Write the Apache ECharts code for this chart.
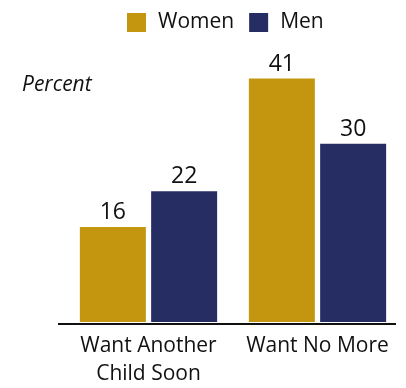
<!DOCTYPE html>
<html>
<head>
<meta charset="utf-8">
<script src="https://cdn.jsdelivr.net/npm/echarts@6/dist/echarts.min.js"></script>
<style>
  html, body { margin: 0; padding: 0; background: #fff; }
  #chart { width: 406px; height: 388px; }
</style>
</head>
<body>
<div id="chart"></div>
<script>
// Fertility preference by sex, percent
const categories = ['Want Another\nChild Soon', 'Want No More'];
const womenValues = [16, 41];
const menValues = [22, 30];
const seriesNames = ['Women', 'Men'];

const GOLD = '#C4960F';
const NAVY = '#252D63';
const FONT = '"Open Sans", "DejaVu Sans", sans-serif';

const chart = echarts.init(document.getElementById('chart'), null, { renderer: 'canvas' });

const valueLabel = {
  show: true,
  position: 'top',
  distance: 3,
  color: '#111',
  fontFamily: FONT,
  fontSize: 23
};

chart.setOption({
  animation: false,
  backgroundColor: '#fff',
  legend: {
    data: seriesNames,
    left: 127,
    top: 12,
    padding: 0,
    itemWidth: 19,
    itemHeight: 19,
    itemGap: 15,
    icon: 'rect',
    textStyle: { fontFamily: FONT, fontSize: 21, color: '#111', padding: [0, 0, 0, 7] }
  },
  grid: { left: 64, right: 4, top: 25, bottom: 65 },
  xAxis: {
    type: 'category',
    data: categories,
    axisLine: { show: false },
    axisTick: { show: false },
    axisLabel: {
      interval: 0,
      hideOverlap: false,
      fontFamily: FONT,
      fontSize: 21,
      color: '#111',
      lineHeight: 28,
      margin: 10
    }
  },
  yAxis: {
    type: 'value',
    min: 0,
    max: 50,
    interval: 10,
    show: false,
    splitLine: { show: false }
  },
  series: [
    {
      name: seriesNames[0],
      type: 'bar',
      data: womenValues,
      barWidth: 66,
      barGap: '8%',
      itemStyle: { color: GOLD },
      label: valueLabel
    },
    {
      name: seriesNames[1],
      type: 'bar',
      data: menValues,
      barWidth: 66,
      itemStyle: { color: NAVY },
      label: valueLabel
    }
  ],
  graphic: [
    {
      type: 'line',
      shape: { x1: 58, y1: 324, x2: 396, y2: 324 },
      style: { stroke: '#111', lineWidth: 2 },
      z: 10
    },
    {
      type: 'text',
      left: 22,
      top: 75,
      style: {
        text: 'Percent',
        fontFamily: FONT,
        fontStyle: 'italic',
        fontSize: 21,
        fill: '#111'
      }
    }
  ]
});
</script>
</body>
</html>
